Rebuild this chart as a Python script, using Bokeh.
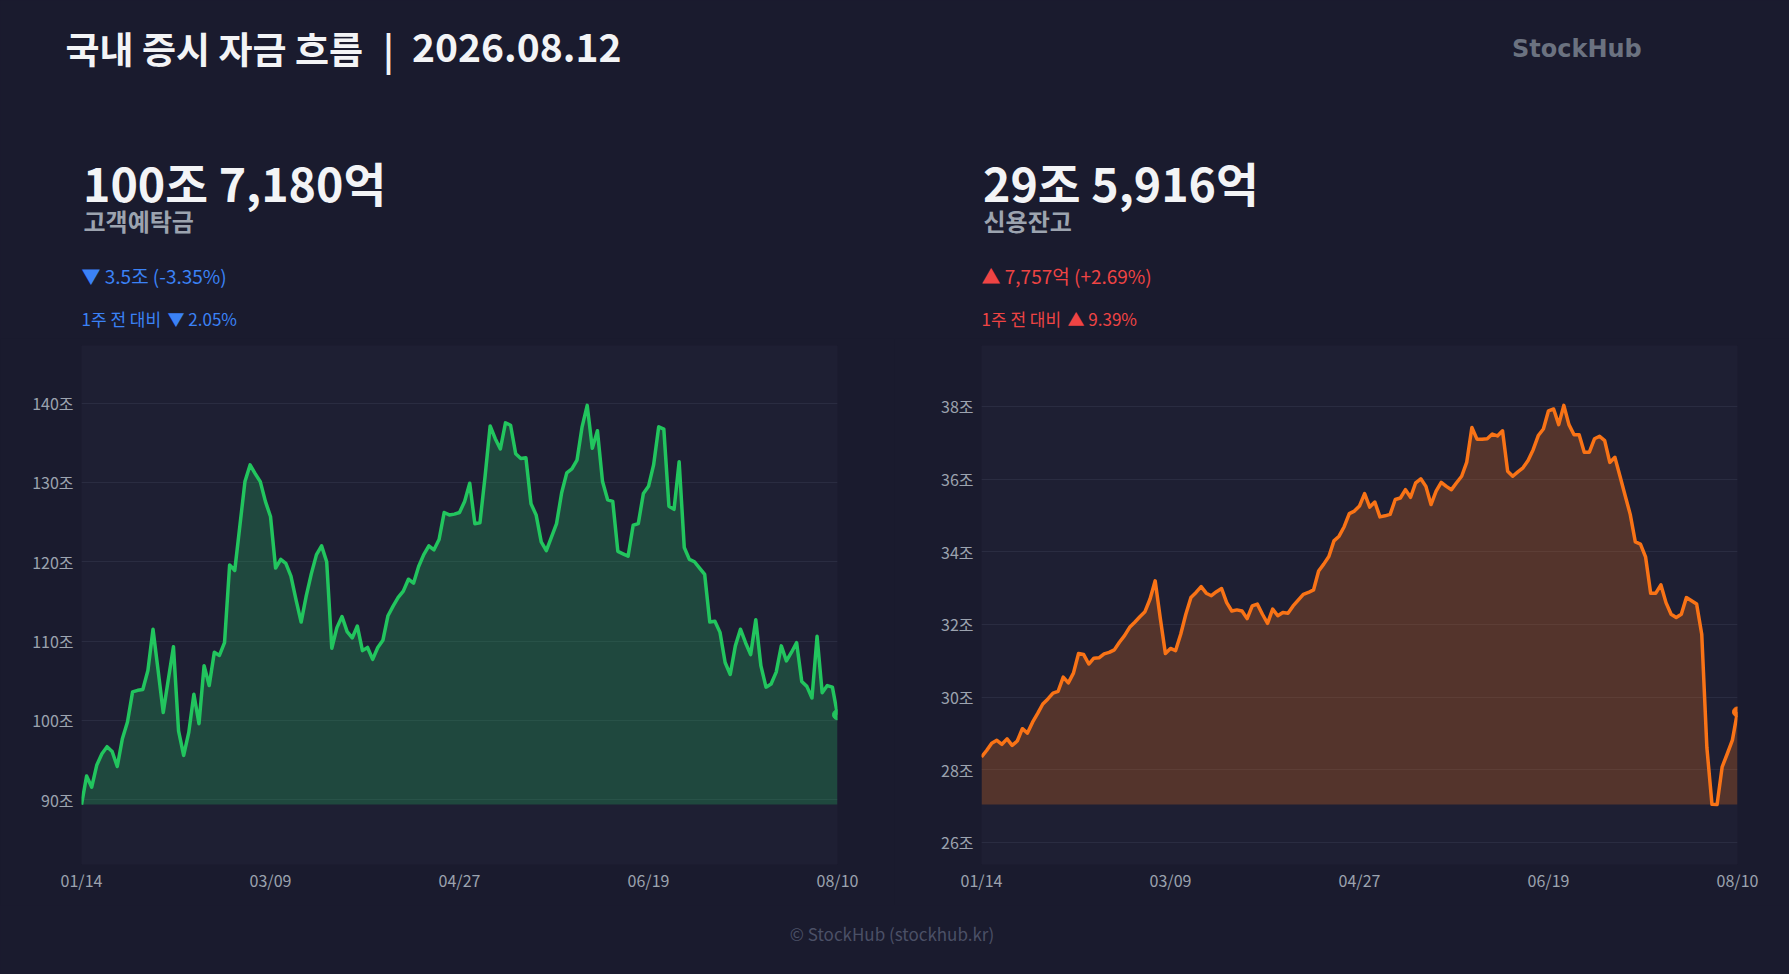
from bokeh.plotting import figure
from bokeh.models import Range1d, Label, FixedTicker
from bokeh.layouts import column, row
from bokeh.embed import file_html
from bokeh.resources import INLINE

# ---------------- data ----------------
deposit = [89.4, 93.0, 91.6, 94.4, 95.8, 96.7, 96.1, 94.2, 97.7, 99.8,
           103.6, 103.8, 103.9, 106.3, 111.5, 106.3, 101.0, 105.2, 109.3, 98.7,
           95.6, 98.5, 103.3, 99.6, 106.9, 104.4, 108.6, 108.2, 109.8, 119.6,
           118.9, 124.5, 130.1, 132.2, 131.1, 130.1, 127.6, 125.7, 119.2, 120.3,
           119.8, 118.2, 115.2, 112.4, 115.7, 118.5, 120.9, 122.0, 120.0, 109.1,
           111.7, 113.1, 111.2, 110.4, 111.9, 108.8, 109.2, 107.7, 109.2, 110.1,
           113.2, 114.4, 115.5, 116.3, 117.8, 117.3, 119.4, 120.9, 122.0, 121.5,
           122.8, 126.2, 125.9, 126.0, 126.2, 127.6, 129.9, 124.8, 124.9, 130.7,
           137.1, 135.5, 134.2, 137.5, 137.2, 133.6, 133.0, 133.1, 127.3, 125.9,
           122.5, 121.4, 123.1, 124.8, 128.7, 131.2, 131.7, 132.8, 137.0, 139.7,
           134.3, 136.5, 130.1, 127.8, 127.6, 121.3, 121.0, 120.7, 124.6, 124.8,
           128.6, 129.5, 132.2, 137.0, 136.7, 127.0, 126.6, 132.6, 121.8, 120.3,
           120.0, 119.2, 118.4, 112.4, 112.5, 111.1, 107.3, 105.8, 109.4, 111.5,
           109.8, 108.3, 112.7, 106.9, 104.2, 104.6, 106.1, 109.4, 107.5, 108.6,
           109.8, 104.9, 104.3, 102.83, 110.6, 103.5, 104.4, 104.21, 100.718]

credit = [28.35, 28.53, 28.73, 28.81, 28.70, 28.85, 28.67, 28.79, 29.13, 29.01,
          29.31, 29.55, 29.81, 29.95, 30.11, 30.16, 30.55, 30.39, 30.66, 31.20,
          31.17, 30.91, 31.07, 31.08, 31.19, 31.23, 31.30, 31.51, 31.69, 31.92,
          32.06, 32.21, 32.35, 32.70, 33.20, 32.17, 31.20, 31.34, 31.28, 31.73,
          32.28, 32.74, 32.88, 33.04, 32.86, 32.79, 32.90, 32.99, 32.60, 32.37,
          32.40, 32.37, 32.16, 32.51, 32.56, 32.28, 32.03, 32.42, 32.24, 32.33,
          32.31, 32.51, 32.67, 32.83, 32.88, 32.95, 33.47, 33.66, 33.87, 34.30,
          34.43, 34.69, 35.05, 35.12, 35.26, 35.60, 35.23, 35.37, 34.96, 34.99,
          35.03, 35.44, 35.48, 35.71, 35.50, 35.90, 36.01, 35.80, 35.30, 35.67,
          35.91, 35.80, 35.71, 35.90, 36.08, 36.47, 37.42, 37.10, 37.10, 37.11,
          37.24, 37.19, 37.33, 36.22, 36.08, 36.20, 36.31, 36.51, 36.81, 37.20,
          37.38, 37.88, 37.93, 37.50, 38.03, 37.50, 37.22, 37.22, 36.74, 36.74,
          37.11, 37.18, 37.06, 36.46, 36.60, 36.08, 35.55, 35.03, 34.27, 34.21,
          33.86, 32.86, 32.86, 33.09, 32.60, 32.28, 32.19, 32.28, 32.74, 32.65,
          32.56, 31.73, 28.62, 27.05, 27.04, 28.08, 28.44, 28.8159, 29.5916]

x_tick_index = [0, 37, 74, 111, 148]
x_tick_labels = ["01/14", "03/09", "04/27", "06/19", "08/10"]
deposit_yticks = [90, 100, 110, 120, 130, 140]
credit_yticks = [26, 28, 30, 32, 34, 36, 38]

title_main = "국내 증시 자금 흐름"
title_sep = "|"
title_date = "2026.08.12"
brand_text = "StockHub"
footer_text = "© StockHub (stockhub.kr)"
deposit_value = "100조 7,180억"
deposit_name = "고객예탁금"
deposit_change = "▼ 3.5조 (-3.35%)"
deposit_week_label = "1주 전 대비"
deposit_week = "▼ 2.05%"
credit_value = "29조 5,916억"
credit_name = "신용잔고"
credit_change = "▲ 7,757억 (+2.69%)"
credit_week_label = "1주 전 대비"
credit_week = "▲ 9.39%"

# ---------------- style ----------------
BG = "#1a1b2e"
FRAME = "#1e1f33"
GRID = "#2a2c41"
FONT = "Noto Sans CJK KR"
GREEN = "#22c55e"
ORANGE = "#f97316"
BLUE = "#3b82f6"
RED = "#ef4444"
WHITE = "#f3f4f6"
GRAY = "#9ca3af"

W = 1789
H_HEAD = 338
H_CHART = 567
H_FOOT = 69


def text_fig(width, height):
    p = figure(width=width, height=height, x_range=Range1d(0, width), y_range=Range1d(height, 0),
               output_backend="svg", toolbar_location=None, x_axis_location=None,
               y_axis_location=None, min_border=0)
    p.background_fill_color = BG
    p.border_fill_color = BG
    p.outline_line_color = None
    p.grid.visible = False
    return p


def add_text(p, x, y, text, size, color, bold=False, align="left", font=FONT):
    p.add_layout(Label(x=x, y=y, text=text, text_font=font, text_font_size=f"{size}px",
                       text_color=color, text_font_style="bold" if bold else "normal",
                       text_baseline="alphabetic", text_align=align))


# header
head = text_fig(W, H_HEAD)
add_text(head, 65, 47.5, title_main, 37, WHITE, bold=True)
add_text(head, 388, 47.5, title_sep, 37, WHITE, bold=True, align="center")
add_text(head, 411.5, 46.5, title_date, 39, WHITE, bold=True)
add_text(head, 1511.5, 48.2, brand_text, 24, "#6b7280", bold=True, font="DejaVu Sans")
for x0, val, name, chg, wl, wk, col in [
        (81, deposit_value, deposit_name, deposit_change, deposit_week_label, deposit_week, BLUE),
        (981, credit_value, credit_name, credit_change, credit_week_label, credit_week, RED)]:
    add_text(head, x0 + 1.5, 180.6, val, 46.5, WHITE, bold=True)
    add_text(head, x0 + 2, 220.3, name, 24, GRAY, bold=True)
    add_text(head, x0, 274.6, chg, 19, col)
    add_text(head, x0, 317.7, wl, 17, col)
    add_text(head, x0 + 86, 317.7, wk, 17, col)


def chart(vals, yticks, color, width, bl, br):
    n = len(vals)
    xs = list(range(n))
    lo, hi = min(vals), max(vals)
    pad = (hi - lo) * 0.15
    p = figure(width=width, height=H_CHART, x_range=Range1d(0, n - 1),
               y_range=Range1d(lo - pad, hi + pad), output_backend="svg",
               toolbar_location=None, min_border_left=bl, min_border_right=br,
               min_border_top=7, min_border_bottom=41)
    p.background_fill_color = FRAME
    p.border_fill_color = BG
    p.outline_line_color = None
    p.xgrid.visible = False
    p.ygrid.grid_line_color = GRID
    p.ygrid.grid_line_width = 1
    p.varea(x=xs, y1=[lo] * n, y2=vals, fill_color=color, fill_alpha=0.25)
    p.line(xs, vals, line_color=color, line_width=3.5, line_join="round")
    p.scatter([xs[-1]], [vals[-1]], size=10, color=color)
    for ax in (p.xaxis[0], p.yaxis[0]):
        ax.axis_line_color = None
        ax.major_tick_line_color = None
        ax.minor_tick_line_color = None
        ax.major_tick_out = 0
        ax.major_tick_in = 0
        ax.major_label_text_font = FONT
        ax.major_label_text_font_size = "16px"
        ax.major_label_text_color = GRAY
    p.xaxis.ticker = FixedTicker(ticks=x_tick_index)
    p.xaxis.major_label_overrides = {i: t for i, t in zip(x_tick_index, x_tick_labels)}
    p.xaxis.major_label_standoff = 3
    p.yaxis.ticker = FixedTicker(ticks=yticks)
    p.yaxis.major_label_overrides = {t: f"{t}조" for t in yticks}
    p.yaxis.major_label_standoff = 8
    return p


left = chart(deposit, deposit_yticks, GREEN, 894, 81, 57)
right = chart(credit, credit_yticks, ORANGE, 895, 87, 52)

foot = text_fig(W, H_FOOT)
add_text(foot, 891.5, 27.7, footer_text, 17, "#4b5066", align="center")

layout = column(head, row(left, right), foot)
try:
    from bokeh.models import GlobalInlineStyleSheet
    layout.stylesheets = [GlobalInlineStyleSheet(css=f"html, body {{ background-color: {BG}; }}")]
except Exception:
    pass

open("out.html", "w").write(file_html(layout, INLINE))
